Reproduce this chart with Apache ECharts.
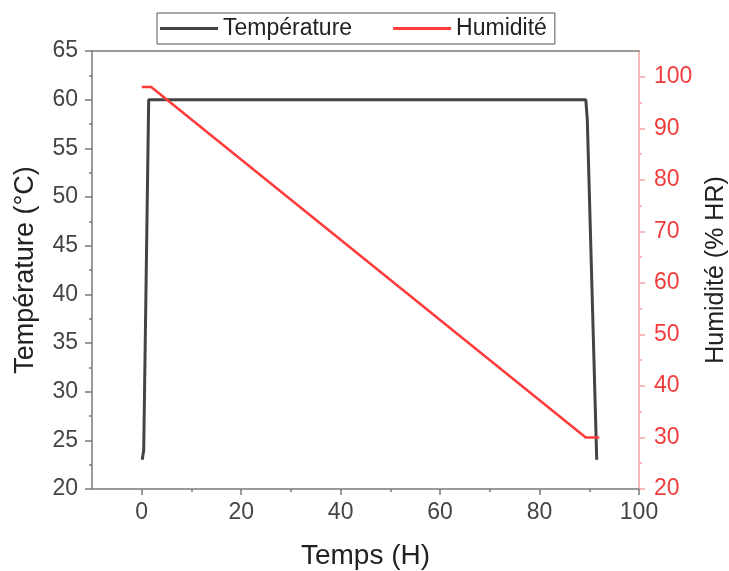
<!DOCTYPE html>
<html>
<head>
<meta charset="utf-8">
<script src="https://cdn.jsdelivr.net/npm/echarts@6/dist/echarts.min.js"></script>
<style>
html,body{margin:0;padding:0;background:#fff;}
#c{width:729px;height:571px;}
</style>
</head>
<body>
<div id="c"></div>
<script>
// Data
var tempData = [[0.1, 23], [0.4, 24], [1.4, 60], [89.3, 60], [89.6, 58], [91.5, 23]];
var humData = [[0, 98], [1.9, 98], [89.3, 30], [92, 30]];
var xLabels = [0, 20, 40, 60, 80, 100];
var xMinor = [10, 30, 50, 70, 90];
var yLeftMinor = [22.5, 27.5, 32.5, 37.5, 42.5, 47.5, 52.5, 57.5, 62.5];
var yRightMajor = [20, 30, 40, 50, 60, 70, 80, 90, 100];
var yRightMinor = [25, 35, 45, 55, 65, 75, 85, 95];
var seriesNames = ['Température', 'Humidité'];

var FONT = 'Liberation Sans, Arial, sans-serif';
var GRAY = '#7a7a7a';
var LABEL = '#444';
var RED = '#f03c3c';
var RED_AXIS = '#f7a0a0';

var chart = echarts.init(document.getElementById('c'), null, {renderer: 'canvas'});
chart.setOption({
  animation: false,
  backgroundColor: '#fff',
  grid: {left: 92, right: 90, top: 51, bottom: 82, outerBoundsMode: 'none', containLabel: false},
  legend: {
    left: 157, top: 13,
    data: seriesNames,
    icon: 'rect',
    itemWidth: 58, itemHeight: 3,
    itemGap: 41,
    padding: [4, 8, 4, 3],
    borderColor: '#555', borderWidth: 1,
    textStyle: {fontFamily: FONT, fontSize: 23, color: '#222'}
  },
  xAxis: [
    {
      type: 'value', min: -10, max: 100, interval: 10, position: 'bottom',
      name: 'Temps (H)', nameLocation: 'middle', nameGap: 53,
      nameTextStyle: {fontFamily: FONT, fontSize: 28, color: '#222'},
      axisLine: {onZero: false, lineStyle: {color: GRAY, width: 1.5}},
      axisTick: {customValues: xLabels, length: 6, lineStyle: {color: GRAY, width: 1.5}},
      axisLabel: {customValues: xLabels, margin: 12, fontFamily: FONT, fontSize: 23, color: LABEL},
      splitLine: {show: false}
    },
    {
      type: 'value', min: -10, max: 100, interval: 10, position: 'bottom',
      axisLine: {show: false, onZero: false},
      axisTick: {customValues: xMinor, length: 3, lineStyle: {color: GRAY, width: 1.5}},
      axisLabel: {show: false}, splitLine: {show: false}
    },
    {
      type: 'value', min: -10, max: 100, position: 'top',
      axisLine: {onZero: false, lineStyle: {color: GRAY, width: 1.5}},
      axisTick: {show: false}, axisLabel: {show: false}, splitLine: {show: false}
    }
  ],
  yAxis: [
    {
      type: 'value', min: 20, max: 65, interval: 5, position: 'left',
      name: 'Température (°C)', nameLocation: 'middle', nameGap: 53, nameRotate: 90,
      nameTextStyle: {fontFamily: FONT, fontSize: 27, color: '#222'},
      axisLine: {show: true, onZero: false, lineStyle: {color: GRAY, width: 1.5}},
      axisTick: {show: true, length: 7, lineStyle: {color: GRAY, width: 1.5}},
      axisLabel: {margin: 14, fontFamily: FONT, fontSize: 23, color: LABEL},
      splitLine: {show: false}
    },
    {
      type: 'value', min: 20, max: 105, interval: 10, position: 'right',
      name: 'Humidité (% HR)', nameLocation: 'middle', nameGap: 62, nameRotate: 90,
      nameTextStyle: {fontFamily: FONT, fontSize: 25, color: '#222'},
      axisLine: {show: true, onZero: false, lineStyle: {color: RED_AXIS, width: 1.5}},
      axisTick: {show: true, customValues: yRightMajor, length: 6, lineStyle: {color: RED_AXIS, width: 1.5}},
      axisLabel: {customValues: yRightMajor, margin: 15, fontFamily: FONT, fontSize: 23, color: RED},
      splitLine: {show: false}
    },
    {
      type: 'value', min: 20, max: 65, interval: 5, position: 'left',
      axisLine: {show: false, onZero: false},
      axisTick: {show: true, customValues: yLeftMinor, length: 3, lineStyle: {color: GRAY, width: 1.5}},
      axisLabel: {show: false}, splitLine: {show: false}
    },
    {
      type: 'value', min: 20, max: 105, interval: 10, position: 'right',
      axisLine: {show: false, onZero: false},
      axisTick: {show: true, customValues: yRightMinor, length: 3, lineStyle: {color: RED_AXIS, width: 1.5}},
      axisLabel: {show: false}, splitLine: {show: false}
    }
  ],
  series: [
    {
      name: seriesNames[0], type: 'line', xAxisIndex: 0, yAxisIndex: 0,
      data: tempData, showSymbol: false, symbol: 'none',
      lineStyle: {color: '#444', width: 3}, itemStyle: {color: '#444'}, z: 3
    },
    {
      name: seriesNames[1], type: 'line', xAxisIndex: 0, yAxisIndex: 1,
      data: humData, showSymbol: false, symbol: 'none',
      lineStyle: {color: '#ff3a3a', width: 2.5}, itemStyle: {color: '#ff3a3a'}, z: 4
    }
  ]
});
</script>
</body>
</html>
